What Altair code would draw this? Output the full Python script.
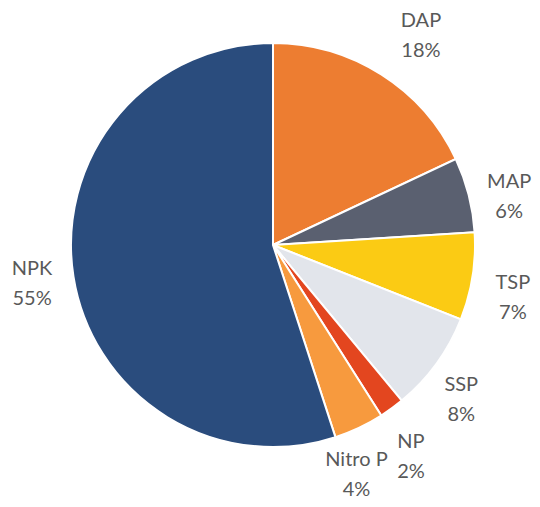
import altair as alt
import pandas as pd
import math

categories = ["DAP", "MAP", "TSP", "SSP", "NP", "Nitro P", "NPK"]
shares = [18, 6, 7, 8, 2, 4, 55]
colors = ["#ED7D31", "#5A6070", "#FBCB14", "#E2E5EB", "#E3461F", "#F79A3E", "#2A4C7D"]

# label nudges (pixels) relative to the default radial placement
nudges = {
    "DAP": (14, 2), "MAP": (-6, 14), "TSP": (-7, 14), "SSP": (-14, 8),
    "NP": (-9, 10), "Nitro P": (-23, 4), "NPK": (6, 0),
}

df = pd.DataFrame({
    "cat": categories,
    "val": shares,
    "order": list(range(len(categories))),
    "pct": [f"{v}%" for v in shares],
})

theta_scale = alt.Scale(domain=[0, sum(shares)], range=[0, 2 * math.pi])

base = alt.Chart(df).transform_window(
    cum="sum(val)", sort=[alt.SortField("order")], frame=[None, 0]
).transform_calculate(
    start="datum.cum - datum.val",
    mid="datum.cum - datum.val / 2",
)

pie = base.mark_arc(radius=202, stroke="white", strokeWidth=2).encode(
    theta=alt.Theta("start:Q", scale=theta_scale),
    theta2="cum:Q",
    color=alt.Color("cat:N", scale=alt.Scale(domain=categories, range=colors), legend=None),
)

layers = [pie]
for c in categories:
    nx, ny = nudges[c]
    b = base.transform_filter(alt.datum.cat == c).encode(
        theta=alt.Theta("mid:Q", scale=theta_scale)
    )
    layers.append(b.mark_text(radius=250, dx=nx, dy=ny - 15, font="Lato", fontSize=20,
                              color="#595959", align="center", baseline="middle").encode(text="cat:N"))
    layers.append(b.mark_text(radius=250, dx=nx, dy=ny + 15, font="Lato", fontSize=20,
                              color="#595959", align="center", baseline="middle").encode(text="pct:N"))

chart = alt.layer(*layers).properties(
    width=400, height=400,
    padding={"left": 65, "top": 37, "right": 59, "bottom": 54},
    autosize=alt.AutoSizeParams(type="none"),
).configure_view(stroke=None)

chart.save("out.html", embed_options={"renderer": "svg", "actions": False})
